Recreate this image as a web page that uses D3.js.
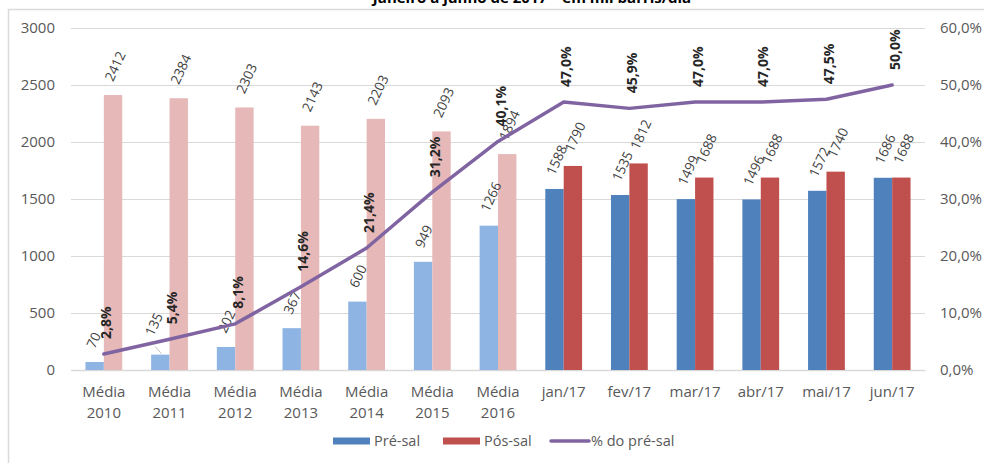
<!DOCTYPE html>
<html>
<head>
<meta charset="utf-8">
<script src="https://cdn.jsdelivr.net/npm/d3@7"></script>
<style>
  body { margin: 0; background: #fff; }
  svg { display: block; font-family: "Open Sans", sans-serif; }
</style>
</head>
<body>
<div id="chart"></div>
<script>
// dados (mil b/d)
const categories = ["Média 2010", "Média 2011", "Média 2012", "Média 2013", "Média 2014", "Média 2015", "Média 2016",
  "jan/17", "fev/17", "mar/17", "abr/17", "mai/17", "jun/17"];
const preSal = [70, 135, 202, 367, 600, 949, 1266, 1588, 1535, 1499, 1496, 1572, 1686];
const posSal = [2412, 2384, 2303, 2143, 2203, 2093, 1894, 1790, 1812, 1688, 1688, 1740, 1688];
const pctPreSal = [0.028, 0.054, 0.081, 0.146, 0.214, 0.312, 0.401, 0.470, 0.459, 0.470, 0.470, 0.475, 0.500];
const leftTicks = [0, 500, 1000, 1500, 2000, 2500, 3000];
const rightTicks = [0, 0.1, 0.2, 0.3, 0.4, 0.5, 0.6];
const legendItems = ["Pré-sal", "Pós-sal", "% do pré-sal"];
const title = "Janeiro a junho de 2017 – em mil barris/dia";

const W = 984, H = 463;
const margin = {top: 28, right: 59, bottom: 93, left: 71};
const innerW = W - margin.left - margin.right;
const innerH = H - margin.top - margin.bottom;

const colors = {
  pre: "#4F81BD", pos: "#C0504D",
  preLight: "#8EB4E3", posLight: "#E6B9B8",
  line: "#8064A2", grid: "#D9D9D9", text: "#595959", label: "#404040"
};

const ptBR = d3.formatLocale({decimal: ",", thousands: ".", grouping: [3], currency: ["R$", ""]});
const fmtPct = ptBR.format(".1%");

const svg = d3.select("#chart").append("svg")
  .attr("width", W)
  .attr("height", H);

svg.append("rect").attr("width", W).attr("height", H).attr("fill", "#fff");

// moldura do gráfico (cortada)
svg.append("path")
  .attr("d", `M8.5,${H} V9.5 H${W}`)
  .attr("fill", "none")
  .attr("stroke", "#DADADA")
  .attr("stroke-width", 1.5);

// título, quase todo fora do quadro como no original
svg.append("text")
  .attr("x", 532)
  .attr("y", 3)
  .attr("text-anchor", "middle")
  .attr("font-weight", "bold")
  .attr("font-size", 15)
  .attr("fill", "#000")
  .text(title);

const g = svg.append("g").attr("transform", `translate(${margin.left},${margin.top})`);

const x = d3.scaleBand().domain(categories).range([0, innerW]).padding(0);
const y = d3.scaleLinear().domain([0, 3000]).range([innerH, 0]);
const yPct = d3.scaleLinear().domain([0, 0.6]).range([innerH, 0]);
const barW = x.bandwidth() * 0.28;

// grade
g.append("g")
  .call(d3.axisLeft(y).tickValues(leftTicks).tickSize(-innerW).tickFormat(""))
  .call(s => s.select(".domain").remove())
  .call(s => s.selectAll("line").attr("stroke", colors.grid).attr("stroke-width", 1));

// eixo esquerdo
g.append("g")
  .call(d3.axisLeft(y).tickValues(leftTicks).tickSize(0).tickPadding(16).tickFormat(d3.format("d")))
  .call(s => s.select(".domain").remove())
  .call(s => s.selectAll("text").attr("fill", colors.text).attr("font-size", 15)
    .attr("font-family", "Open Sans, sans-serif"));

// eixo direito
g.append("g")
  .attr("transform", `translate(${innerW},0)`)
  .call(d3.axisRight(yPct).tickValues(rightTicks).tickSize(0).tickPadding(15).tickFormat(fmtPct))
  .call(s => s.select(".domain").remove())
  .call(s => s.selectAll("text").attr("fill", colors.text).attr("font-size", 15)
    .attr("font-family", "Open Sans, sans-serif"));

// eixo x
const xAxis = g.append("g")
  .attr("transform", `translate(0,${innerH})`)
  .call(d3.axisBottom(x).tickSize(0).tickFormat(""));
xAxis.select(".domain").attr("stroke", colors.grid).attr("stroke-width", 1.5);
xAxis.selectAll(".tick").append("text")
  .attr("fill", colors.text)
  .attr("font-size", 15)
  .attr("font-family", "Open Sans, sans-serif")
  .attr("text-anchor", "middle")
  .selectAll("tspan")
  .data(d => d.split(" "))
  .join("tspan")
  .attr("x", 0)
  .attr("y", (d, i) => 27 + i * 21)
  .text(d => d);

const isAvg = d => d.startsWith("Média");

const rows = categories.map((c, i) => ({cat: c, pre: preSal[i], pos: posSal[i], pct: pctPreSal[i]}));

// barras
const groups = g.append("g").selectAll("g")
  .data(rows)
  .join("g")
  .attr("transform", d => `translate(${x(d.cat) + x.bandwidth() / 2},0)`);

groups.append("rect")
  .attr("x", -barW)
  .attr("y", d => y(d.pre))
  .attr("width", barW)
  .attr("height", d => innerH - y(d.pre))
  .attr("fill", d => isAvg(d.cat) ? colors.preLight : colors.pre);

groups.append("rect")
  .attr("x", 0)
  .attr("y", d => y(d.pos))
  .attr("width", barW)
  .attr("height", d => innerH - y(d.pos))
  .attr("fill", d => isAvg(d.cat) ? colors.posLight : colors.pos);

// rótulo de 2011 foi arrastado no original (com linha guia)
const moved = {"Média 2011": [-7, -5]};

const barLabel = (sel, key, cx) => sel.append("text")
  .attr("transform", d => {
    const m = (key === "pre" && moved[d.cat]) || [0, 0];
    return `translate(${cx - 4.5 + m[0]},${y(d[key]) - 15 + m[1]}) rotate(-65)`;
  })
  .attr("dominant-baseline", "central")
  .attr("font-size", 13.5)
  .attr("fill", colors.label)
  .text(d => d[key]);

barLabel(groups, "pre", -barW / 2);
barLabel(groups, "pos", barW / 2);

groups.filter(d => moved[d.cat]).append("line")
  .attr("x1", d => -barW / 2 - 5)
  .attr("y1", d => y(d.pre) - 8)
  .attr("x2", d => -barW / 2 + 1)
  .attr("y2", d => y(d.pre) - 1)
  .attr("stroke", "#BFBFBF")
  .attr("stroke-width", 1);

// linha % do pré-sal
const line = d3.line()
  .x(d => x(d.cat) + x.bandwidth() / 2)
  .y(d => yPct(d.pct));

g.append("path")
  .datum(rows)
  .attr("d", line)
  .attr("fill", "none")
  .attr("stroke", colors.line)
  .attr("stroke-width", 3.5)
  .attr("stroke-linejoin", "round")
  .attr("stroke-linecap", "round");

g.append("g").selectAll("text")
  .data(rows)
  .join("text")
  .attr("transform", d => `translate(${x(d.cat) + x.bandwidth() / 2 + 2},${yPct(d.pct) - 15}) rotate(-90)`)
  .attr("dominant-baseline", "central")
  .attr("font-size", 14)
  .attr("font-weight", "bold")
  .attr("fill", "#262626")
  .text(d => fmtPct(d.pct));

// legenda
const legend = svg.append("g").attr("font-size", 14.5).attr("fill", colors.text);
const legendX = [333, 443, 550];
legendItems.forEach((name, i) => {
  const item = legend.append("g").attr("transform", `translate(${legendX[i]},441)`);
  if (i < 2) {
    item.append("rect").attr("x", 0).attr("y", -3.5).attr("width", 37).attr("height", 7)
      .attr("fill", i === 0 ? colors.pre : colors.pos);
  } else {
    item.append("line").attr("x1", 1).attr("x2", 39).attr("stroke", colors.line)
      .attr("stroke-width", 3.5).attr("stroke-linecap", "round");
  }
  item.append("text").attr("x", 41).attr("dy", "0.35em").text(name);
});
</script>
</body>
</html>
